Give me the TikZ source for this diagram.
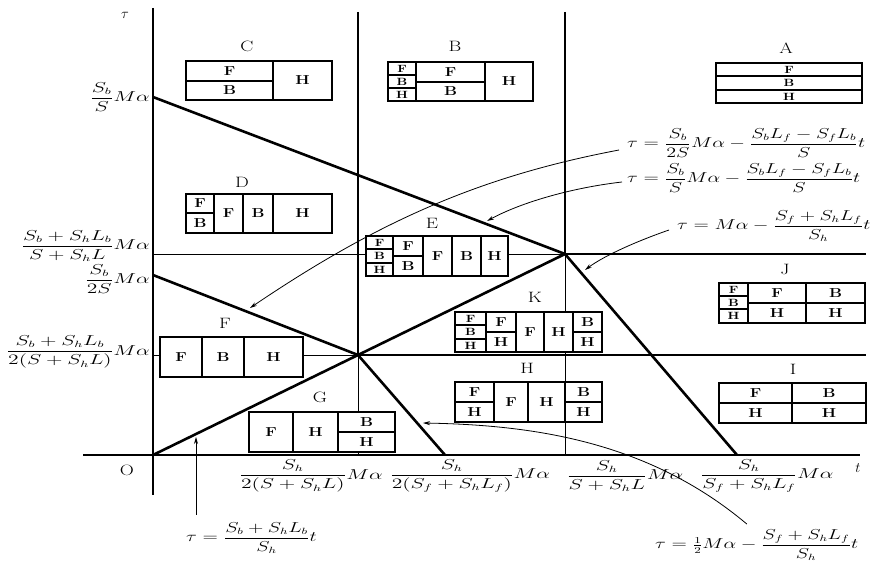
\documentclass[tikz,border=0pt]{standalone}
\usepackage{amsmath}
\usepackage{graphicx}
\usetikzlibrary{arrows.meta, calc}

\newcommand{\wide}[2][1.5]{\scalebox{#1}[1]{#2}}
\newcommand{\cellfont}{\fontsize{13}{13}\selectfont\bfseries}
\newcommand{\smallcellfont}{\fontsize{10.5}{10.5}\selectfont\bfseries}
\newcommand{\regionfont}{\fontsize{15}{15}\selectfont}
\newcommand{\mathfont}{\fontsize{13.5}{16}\selectfont}
% one cell of a table: name, x1, y1, x2, y2, letter
\newcommand{\tcell}[7][]{%
  \node[cell, #1, minimum width={(#5-#3)*1pt}, minimum height={(#6-#4)*1pt}]
    (#2) at ({(#3+#5)/2},{(#4+#6)/2}) {\wide[1.25]{#7}};}

\begin{document}
\begin{tikzpicture}[x=1pt, y=-1pt,
    axis/.style={line width=1.6pt},
    bound/.style={line width=2.6pt},
    midline/.style={line width=1.8pt},
    thinline/.style={line width=0.8pt},
    arr/.style={line width=0.8pt, -{Stealth[length=7pt, width=4pt]}},
    cell/.style={draw, line width=1.2pt, fill=white, inner sep=0pt, outer sep=0pt, font=\cellfont},
    scell/.style={font=\smallcellfont},
    tabframe/.style={line width=1.7pt},
    region/.style={font=\regionfont, inner sep=1pt},
    mlabel/.style={font=\mathfont, inner sep=1pt}
]
\useasboundingbox (0,0) rectangle (872,561);

\coordinate (O) at (153,455);
\coordinate (P1) at (358,355);
\coordinate (P2) at (565,254);

% axes
\draw[axis] (153,8) -- (153,495);
\draw[axis] (83,455) -- (860,455);
\node[mlabel] (tau) at (125,15) {$\tau$};
\node[mlabel] (tlab) at (858,468) {$t$};
\node[region] (orig) at (127,470) {\wide[1.3]{O}};

% boundaries
\draw[bound] (358,12) -- (P1);
\draw[bound] (565,12) -- (P2);
\draw[thinline] (P1) -- (358,455);
\draw[thinline] (P2) -- (565,455);
\draw[bound] (153,97) -- (P2);
\draw[bound] (153,275) -- (P1);
\draw[bound] (O) -- (P1) -- (P2);
\draw[bound] (P1) -- (445,455);
\draw[bound] (P2) -- (737,455);
\draw[thinline] (153,254) -- (P2);
\draw[midline] (P2) -- (866,254);
\draw[thinline] (153,355) -- (P1);
\draw[midline] (P1) -- (866,355);

% tau axis values
\node[mlabel, anchor=east] (v1) at (151,97) {\wide{$\dfrac{S_b}{S}M\alpha$}};
\node[mlabel, anchor=east] (v2) at (151,246) {\wide{$\dfrac{S_b+S_hL_b}{S+S_hL}M\alpha$}};
\node[mlabel, anchor=east] (v3) at (151,279) {\wide{$\dfrac{S_b}{2S}M\alpha$}};
\node[mlabel, anchor=east] (v4) at (151,352) {\wide{$\dfrac{S_b+S_hL_b}{2(S+S_hL)}M\alpha$}};

% t axis values
\node[mlabel] (h1) at (311,476) {\wide{$\dfrac{S_h}{2(S+S_hL)}M\alpha$}};
\node[mlabel] (h2) at (470,476) {\wide{$\dfrac{S_h}{2(S_f+S_hL_f)}M\alpha$}};
\node[mlabel] (h3) at (625,476) {\wide{$\dfrac{S_h}{S+S_hL}M\alpha$}};
\node[mlabel] (h4) at (767,476) {\wide{$\dfrac{S_h}{S_f+S_hL_f}M\alpha$}};

% tables
\tcell{cF}{186}{61}{273}{81}{F}
\tcell{cB}{186}{81}{273}{100}{B}
\tcell{cH}{273}{61}{332}{100}{H}
\draw[tabframe] (186,61) rectangle (332,100);

\tcell[scell]{bF1}{388}{62}{416}{75}{F}
\tcell[scell]{bB1}{388}{75}{416}{88}{B}
\tcell[scell]{bH1}{388}{88}{416}{101}{H}
\tcell{bF2}{416}{62}{485}{82}{F}
\tcell{bB2}{416}{82}{485}{101}{B}
\tcell{bH2}{485}{62}{533}{101}{H}
\draw[tabframe] (388,62) rectangle (533,101);

\tcell[scell]{aF}{716}{63}{862}{76}{F}
\tcell[scell]{aB}{716}{76}{862}{90}{B}
\tcell[scell]{aH}{716}{90}{862}{103}{H}
\draw[tabframe] (716,63) rectangle (862,103);

\tcell{dF1}{186}{194}{214}{213}{F}
\tcell{dB1}{186}{213}{214}{233}{B}
\tcell{dF2}{214}{194}{243}{233}{F}
\tcell{dB2}{243}{194}{273}{233}{B}
\tcell{dH}{273}{194}{332}{233}{H}
\draw[tabframe] (186,194) rectangle (332,233);

\tcell[scell]{eF1}{366}{236}{393}{249}{F}
\tcell[scell]{eB1}{366}{249}{393}{263}{B}
\tcell[scell]{eH1}{366}{263}{393}{276}{H}
\tcell{eF2}{393}{236}{423}{256}{F}
\tcell{eB2}{393}{256}{423}{276}{B}
\tcell{eF3}{423}{236}{452}{276}{F}
\tcell{eB3}{452}{236}{481}{276}{B}
\tcell{eH3}{481}{236}{508}{276}{H}
\draw[tabframe] (366,236) rectangle (508,276);

\tcell{fF}{160}{337}{202}{377}{F}
\tcell{fB}{202}{337}{244}{377}{B}
\tcell{fH}{244}{337}{303}{377}{H}
\draw[tabframe] (160,337) rectangle (303,377);

\tcell{gF}{249}{412}{293}{452}{F}
\tcell{gH}{293}{412}{338}{452}{H}
\tcell{gB2}{338}{412}{395}{432}{B}
\tcell{gH2}{338}{432}{395}{452}{H}
\draw[tabframe] (249,412) rectangle (395,452);

\tcell[scell]{kF1}{455}{312}{486}{325}{F}
\tcell[scell]{kB1}{455}{325}{486}{339}{B}
\tcell[scell]{kH1}{455}{339}{486}{352}{H}
\tcell{kF2}{486}{312}{516}{332}{F}
\tcell{kH2}{486}{332}{516}{352}{H}
\tcell{kF3}{516}{312}{544}{352}{F}
\tcell{kH3}{544}{312}{573}{352}{H}
\tcell{kB4}{573}{312}{602}{332}{B}
\tcell{kH4}{573}{332}{602}{352}{H}
\draw[tabframe] (455,312) rectangle (602,352);

\tcell{hF1}{455}{382}{494}{402}{F}
\tcell{hH1}{455}{402}{494}{422}{H}
\tcell{hF2}{494}{382}{528}{422}{F}
\tcell{hH2}{528}{382}{565}{422}{H}
\tcell{hB3}{565}{382}{602}{402}{B}
\tcell{hH3}{565}{402}{602}{422}{H}
\draw[tabframe] (455,382) rectangle (602,422);

\tcell[scell]{jF1}{719}{283}{748}{296}{F}
\tcell[scell]{jB1}{719}{296}{748}{309}{B}
\tcell[scell]{jH1}{719}{309}{748}{323}{H}
\tcell{jF2}{748}{283}{806}{303}{F}
\tcell{jH2}{748}{303}{806}{323}{H}
\tcell{jB3}{806}{283}{865}{303}{B}
\tcell{jH3}{806}{303}{865}{323}{H}
\draw[tabframe] (719,283) rectangle (865,323);

\tcell{iF}{719}{383}{792}{403}{F}
\tcell{iB}{792}{383}{866}{403}{B}
\tcell{iH1}{719}{403}{792}{423}{H}
\tcell{iH2}{792}{403}{866}{423}{H}
\draw[tabframe] (719,383) rectangle (866,423);

% region names
\node[region] (rA) at (786,48) {\wide[1.3]{A}};
\node[region] (rB) at (455,46) {\wide[1.3]{B}};
\node[region] (rC) at (247,46) {\wide[1.3]{C}};
\node[region] (rD) at (242,182) {\wide[1.3]{D}};
\node[region] (rE) at (432,223) {\wide[1.3]{E}};
\node[region] (rF) at (225,323) {\wide[1.3]{F}};
\node[region] (rG) at (320,397) {\wide[1.3]{G}};
\node[region] (rH) at (527,368) {\wide[1.3]{H}};
\node[region] (rI) at (793,369) {\wide[1.3]{I}};
\node[region] (rJ) at (785,269) {\wide[1.3]{J}};
\node[region] (rK) at (535,297) {\wide[1.3]{K}};

% boundary equations
\node[mlabel, anchor=west] (e1) at (626,143) {\wide[1.4]{$\tau=\dfrac{S_b}{2S}M\alpha-\dfrac{S_bL_f-S_fL_b}{S}t$}};
\node[mlabel, anchor=west] (e2) at (626,178) {\wide[1.4]{$\tau=\dfrac{S_b}{S}M\alpha-\dfrac{S_bL_f-S_fL_b}{S}t$}};
\node[mlabel, anchor=west] (e3) at (676,226) {\wide[1.4]{$\tau=M\alpha-\dfrac{S_f+S_hL_f}{S_h}t$}};
\node[mlabel, anchor=west] (e4) at (185,538) {\wide[1.4]{$\tau=\dfrac{S_b+S_hL_b}{S_h}t$}};
\node[mlabel, anchor=west] (e5) at (654,545) {\wide[1.4]{$\tau=\tfrac{1}{2}M\alpha-\dfrac{S_f+S_hL_f}{S_h}t$}};

\coordinate (a1) at (250,308);
\coordinate (a2) at (487,221);
\coordinate (a3) at (585,270);
\coordinate (a4) at (196,437);
\coordinate (a5) at (423,423);
\draw[arr] ([shift={(-7,7)}]e1.west) .. controls (482,176) and (380,220) .. (a1);
\draw[arr] ([shift={(-4,4)}]e2.west) .. controls (570,188) and (520,203) .. (a2);
\draw[arr] ([shift={(-7,4)}]e3.west) .. controls (640,240) and (605,255) .. (a3);
\draw[arr] ($(a4 |- e4.north)+(0,-6)$) -- (a4);
\draw[arr] ($(e5.north)+(-10,-4)$) .. controls (647,440) and (530,425) .. (a5);

\end{tikzpicture}
\end{document}
